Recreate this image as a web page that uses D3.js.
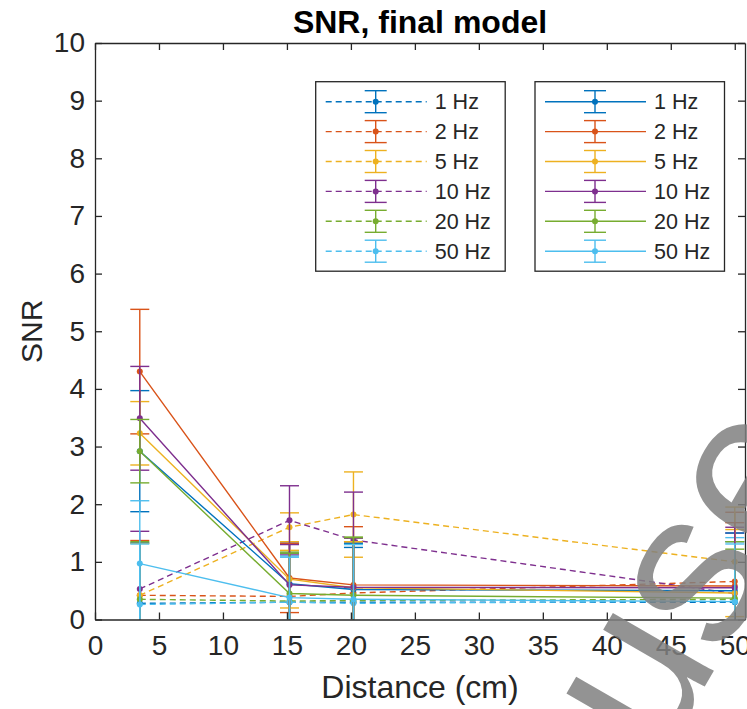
<!DOCTYPE html>
<html>
<head>
<meta charset="utf-8">
<script src="https://cdn.jsdelivr.net/npm/d3@7"></script>
<style>
  body { margin: 0; background: #fff; }
  svg { display: block; }
  text { font-family: "Liberation Sans", Arial, Helvetica, sans-serif; }
</style>
</head>
<body>
<svg id="chart" width="747" height="709"></svg>
<script>
// Measurement distances (cm)
const distances = [3.5, 15.2, 20.2, 50];

// Stimulation frequencies and MATLAB default colour order
const freqLabels = ["1 Hz", "2 Hz", "5 Hz", "10 Hz", "20 Hz", "50 Hz"];
const seriesColors = ["#0072BD", "#D95319", "#EDB120", "#7E2F8E", "#77AC30", "#4DBEEE"];

// Dashed group: mean SNR per frequency at each distance
const dashedMeans = [
  [0.28, 0.30, 0.30, 0.30],
  [0.42, 0.40, 0.46, 0.66],
  [0.42, 1.60, 1.82, 1.00],
  [0.53, 1.72, 1.38, 0.45],
  [0.35, 0.32, 0.33, 0.35],
  [0.26, 0.30, 0.28, 0.32]
];
// Dashed group: error half-widths
const dashedErrs = [
  [1.05, 0.85, 0.95, 1.05],
  [0.95, 0.95, 1.15, 1.20],
  [0.90, 0.25, 0.74, 0.95],
  [1.00, 0.60, 0.83, 1.05],
  [1.00, 0.85, 1.10, 1.00],
  [1.05, 0.80, 1.05, 1.10]
];

// Solid group: mean SNR per frequency at each distance
const solidMeans = [
  [2.92, 0.62, 0.52, 0.50],
  [4.30, 0.72, 0.60, 0.58],
  [3.23, 0.70, 0.55, 0.46],
  [3.49, 0.60, 0.56, 0.55],
  [2.92, 0.45, 0.42, 0.37],
  [0.97, 0.38, 0.35, 0.31]
];
// Solid group: error half-widths
const solidErrs = [
  [1.05, 0.70, 0.80, 1.00],
  [1.08, 0.60, 0.75, 1.10],
  [0.55, 0.50, 0.80, 1.10],
  [0.90, 0.70, 0.85, 1.05],
  [0.55, 0.70, 1.00, 0.85],
  [1.09, 0.70, 0.95, 1.00]
];

const xTickValues = [0, 5, 10, 15, 20, 25, 30, 35, 40, 45, 50];
const yTickValues = [0, 1, 2, 3, 4, 5, 6, 7, 8, 9, 10];

const titleText = "SNR, final model";
const xLabelText = "Distance (cm)";
const yLabelText = "SNR";
const watermarkText = "use";

// ---- layout ----
const svg = d3.select("#chart");
const axisColor = "#262626";
const plot = { left: 95, right: 745, top: 43, bottom: 619.5 };

const x = d3.scaleLinear().domain([0, 50.8]).range([plot.left, plot.right]);
const y = d3.scaleLinear().domain([0, 10]).range([plot.bottom, plot.top]);

svg.append("rect").attr("width", 747).attr("height", 709).attr("fill", "#fff");

// ---- data ----
const capHalf = 9.5;
const dataLayer = svg.append("g");

function drawGroup(means, errs, dashed) {
  means.forEach((row, i) => {
    const pts = row.map((v, j) => ({ d: distances[j], v, e: errs[i][j] }));
    const g = dataLayer.append("g");
    const col = seriesColors[i];
    g.append("path")
      .datum(pts)
      .attr("fill", "none")
      .attr("stroke", col)
      .attr("stroke-width", 1.4)
      .attr("stroke-dasharray", dashed ? "6,4" : null)
      .attr("d", d3.line().x(p => x(p.d)).y(p => y(p.v)));
    const bars = g.selectAll(".bar").data(pts).join("g").attr("class", "bar")
      .attr("stroke", col).attr("stroke-width", 1.4);
    bars.append("line")
      .attr("x1", p => x(p.d)).attr("x2", p => x(p.d))
      .attr("y1", p => y(Math.max(0, p.v - p.e))).attr("y2", p => y(p.v + p.e));
    bars.append("line")
      .attr("x1", p => x(p.d) - capHalf).attr("x2", p => x(p.d) + capHalf)
      .attr("y1", p => y(p.v + p.e)).attr("y2", p => y(p.v + p.e));
    bars.filter(p => p.v - p.e > 0).append("line")
      .attr("x1", p => x(p.d) - capHalf).attr("x2", p => x(p.d) + capHalf)
      .attr("y1", p => y(p.v - p.e)).attr("y2", p => y(p.v - p.e));
    g.selectAll("circle").data(pts).join("circle")
      .attr("cx", p => x(p.d)).attr("cy", p => y(p.v)).attr("r", 3)
      .attr("fill", col);
  });
}
drawGroup(dashedMeans, dashedErrs, true);
drawGroup(solidMeans, solidErrs, false);

// ---- axes (inward ticks on all four sides) ----
function styleAxis(g) {
  g.selectAll("path, line").attr("stroke", axisColor).attr("stroke-width", 1.3);
  g.selectAll("text").attr("fill", axisColor).attr("font-size", 28)
    .attr("font-family", "'Liberation Sans', Arial, sans-serif");
}
svg.append("g").attr("transform", `translate(0,${plot.bottom})`)
  .call(d3.axisBottom(x).tickValues(xTickValues).tickSize(-7).tickSizeOuter(0).tickPadding(16))
  .call(styleAxis);
svg.append("g").attr("transform", `translate(0,${plot.top})`)
  .call(d3.axisTop(x).tickValues(xTickValues).tickSize(-7).tickSizeOuter(0).tickFormat(""))
  .call(styleAxis);
svg.append("g").attr("transform", `translate(${plot.left},0)`)
  .call(d3.axisLeft(y).tickValues(yTickValues).tickSize(-7).tickSizeOuter(0).tickPadding(10))
  .call(styleAxis);
svg.append("g").attr("transform", `translate(${plot.right},0)`)
  .call(d3.axisRight(y).tickValues(yTickValues).tickSize(-7).tickSizeOuter(0).tickFormat(""))
  .call(styleAxis);

// ---- titles ----
const midX = (plot.left + plot.right) / 2;
svg.append("text").attr("x", midX).attr("y", 33).attr("text-anchor", "middle")
  .attr("font-size", 32).attr("font-weight", "bold").attr("fill", "#000").text(titleText);
svg.append("text").attr("x", midX).attr("y", 698).attr("text-anchor", "middle")
  .attr("font-size", 32).attr("fill", axisColor).text(xLabelText);
svg.append("text").attr("transform", `translate(42,${(plot.top + plot.bottom) / 2}) rotate(-90)`)
  .attr("text-anchor", "middle").attr("font-size", 30).attr("fill", axisColor).text(yLabelText);

// ---- legends ----
function drawLegend(left, dashed) {
  const top = 81.7, w = 189.5, h = 189.5, rowH = 29.9, firstRow = 101.7;
  const g = svg.append("g");
  g.append("rect").attr("x", left).attr("y", top).attr("width", w).attr("height", h)
    .attr("fill", "#fff").attr("stroke", axisColor).attr("stroke-width", 1.3);
  freqLabels.forEach((lab, i) => {
    const cy = firstRow + i * rowH;
    const col = seriesColors[i];
    const mx = left + 60;
    g.append("line").attr("x1", left + 10).attr("x2", left + 111).attr("y1", cy).attr("y2", cy)
      .attr("stroke", col).attr("stroke-width", 1.4).attr("stroke-dasharray", dashed ? "6,4" : null);
    g.append("line").attr("x1", mx).attr("x2", mx).attr("y1", cy - 11).attr("y2", cy + 11)
      .attr("stroke", col).attr("stroke-width", 1.4);
    [cy - 11, cy + 11].forEach(yy => g.append("line")
      .attr("x1", mx - 11).attr("x2", mx + 11).attr("y1", yy).attr("y2", yy)
      .attr("stroke", col).attr("stroke-width", 1.4));
    g.append("circle").attr("cx", mx).attr("cy", cy).attr("r", 3).attr("fill", col);
    g.append("text").attr("x", left + 119).attr("y", cy).attr("dy", "0.36em")
      .attr("font-size", 21.5).attr("fill", axisColor).text(lab);
  });
}
drawLegend(315.7, true);
drawLegend(535, false);

// ---- watermark ----
svg.append("text")
  .attr("transform", "translate(682,572) rotate(-60)")
  .attr("text-anchor", "middle").attr("dy", "0.35em")
  .attr("font-size", 220).attr("fill", "#808080").attr("fill-opacity", 0.85)
  .text(watermarkText);
</script>
</body>
</html>
